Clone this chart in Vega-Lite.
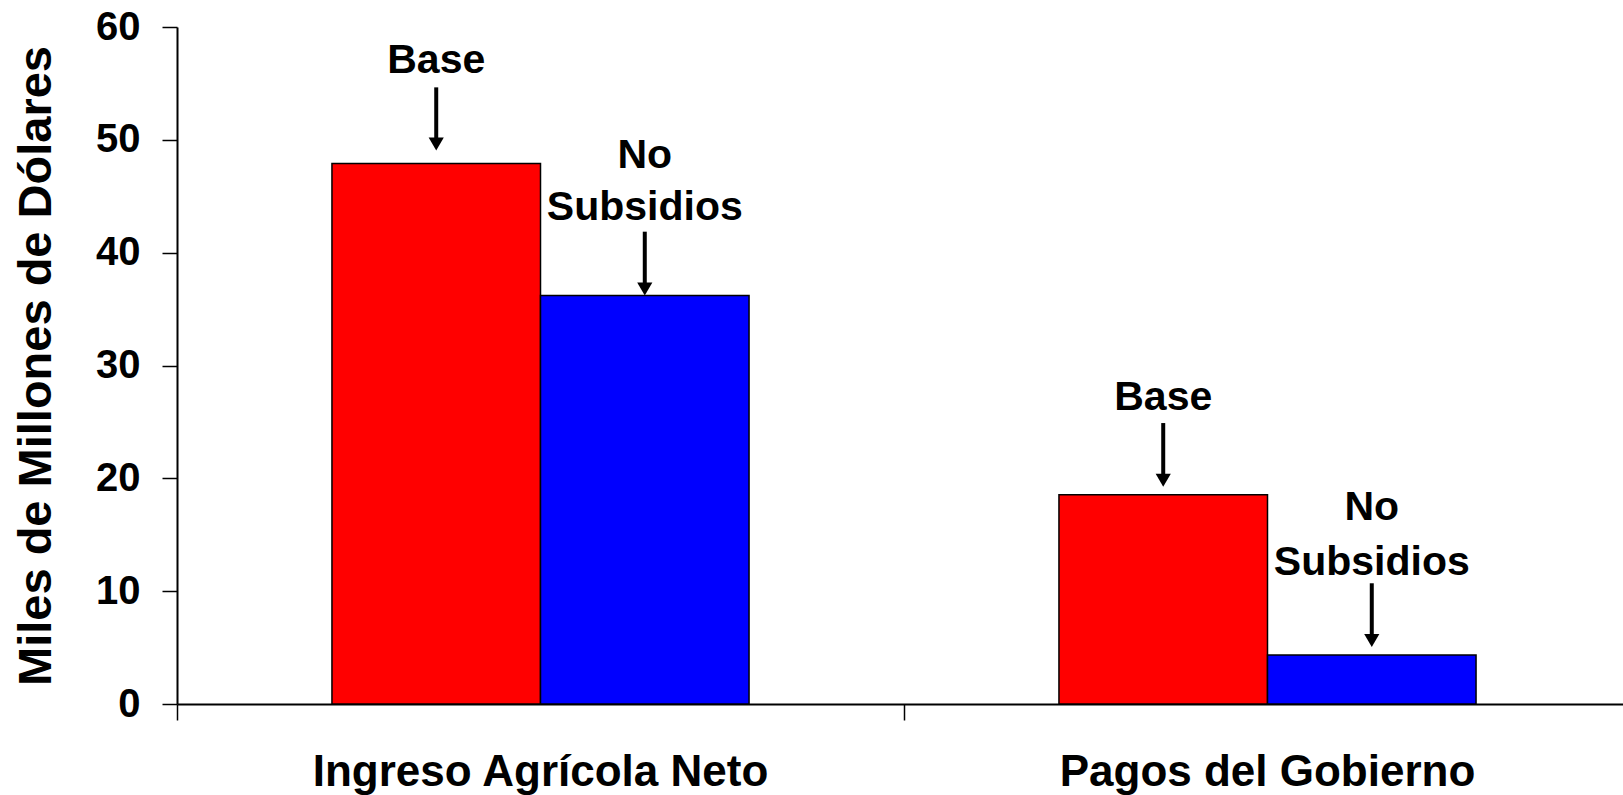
{
  "$schema": "https://vega.github.io/schema/vega-lite/v6.json",
  "width": 1446,
  "height": 677,
  "autosize": {"type": "none"},
  "padding": {"left": 177, "top": 27, "right": 0, "bottom": 91},
  "background": "white",
  "config": {"view": {"stroke": null}, "font": "Liberation Sans"},
  "datasets": {
    "bars": [
      {"cat": "Ingreso Agrícola Neto", "series": "Base", "value": 47.9},
      {"cat": "Ingreso Agrícola Neto", "series": "No Subsidios", "value": 36.2},
      {"cat": "Pagos del Gobierno", "series": "Base", "value": 18.55},
      {"cat": "Pagos del Gobierno", "series": "No Subsidios", "value": 4.34}
    ],
    "arrows": [
      {"cat": "Ingreso Agrícola Neto", "series": "Base", "top": 54.65, "tip": 49.1},
      {"cat": "Ingreso Agrícola Neto", "series": "No Subsidios", "top": 41.86, "tip": 36.25},
      {"cat": "Pagos del Gobierno", "series": "Base", "top": 24.9, "tip": 19.3},
      {"cat": "Pagos del Gobierno", "series": "No Subsidios", "top": 10.7, "tip": 5.1}
    ],
    "labels": [
      {"cat": "Ingreso Agrícola Neto", "series": "Base", "text": "Base", "y": 57.0},
      {"cat": "Ingreso Agrícola Neto", "series": "No Subsidios", "text": "No", "y": 48.6},
      {"cat": "Ingreso Agrícola Neto", "series": "No Subsidios", "text": "Subsidios", "y": 44.0},
      {"cat": "Pagos del Gobierno", "series": "Base", "text": "Base", "y": 27.1},
      {"cat": "Pagos del Gobierno", "series": "No Subsidios", "text": "No", "y": 17.4},
      {"cat": "Pagos del Gobierno", "series": "No Subsidios", "text": "Subsidios", "y": 12.5}
    ]
  },
  "encoding": {
    "x": {
      "field": "cat",
      "type": "nominal",
      "sort": ["Ingreso Agrícola Neto", "Pagos del Gobierno"],
      "scale": {"paddingInner": 0, "paddingOuter": 0, "range": [0, 1454]},
      "axis": {
        "title": null,
        "labelAngle": 0,
        "bandPosition": 0,
        "labelOffset": 0,
        "labelLimit": 0,
        "labelFontSize": 44,
        "labelFontWeight": "bold",
        "labelColor": "black",
        "labelPadding": 30,
        "tickSize": 16,
        "tickColor": "black",
        "tickWidth": 1.5,
        "domainColor": "black",
        "domainWidth": 2
      }
    },
    "xOffset": {
      "field": "series",
      "type": "nominal",
      "sort": ["Base", "No Subsidios"],
      "scale": {"paddingInner": 0, "paddingOuter": 0.743}
    }
  },
  "layer": [
    {
      "data": {"name": "bars"},
      "mark": {"type": "bar", "stroke": "black", "strokeWidth": 1.5},
      "encoding": {
        "y": {
          "field": "value",
          "type": "quantitative",
          "scale": {"domain": [0, 60], "nice": false},
          "axis": {
            "values": [0, 10, 20, 30, 40, 50, 60],
            "grid": false,
            "title": "Miles de Millones de Dólares",
            "titleFontSize": 47,
            "titleFontWeight": "bold",
            "titleColor": "black",
            "titlePadding": 35,
            "labelFontSize": 40,
            "labelFontWeight": "bold",
            "labelColor": "black",
            "labelPadding": 22,
            "tickSize": 15,
            "tickColor": "black",
            "tickWidth": 1.5,
            "domainColor": "black",
            "domainWidth": 2
          }
        },
        "color": {
          "field": "series",
          "type": "nominal",
          "scale": {"domain": ["Base", "No Subsidios"], "range": ["#ff0000", "#0000ff"]},
          "legend": null
        }
      }
    },
    {
      "data": {"name": "arrows"},
      "mark": {"type": "rule", "color": "black", "strokeWidth": 4, "y2Offset": -8},
      "encoding": {
        "y": {"field": "top", "type": "quantitative"},
        "y2": {"field": "tip"}
      }
    },
    {
      "data": {"name": "arrows"},
      "mark": {"type": "point", "shape": "triangle-down", "filled": true, "color": "black", "opacity": 1, "size": 230, "yOffset": -6},
      "encoding": {
        "y": {"field": "tip", "type": "quantitative"}
      }
    },
    {
      "data": {"name": "labels"},
      "mark": {"type": "text", "fontSize": 41, "fontWeight": "bold", "color": "black", "align": "center", "baseline": "middle"},
      "encoding": {
        "y": {"field": "y", "type": "quantitative"},
        "text": {"field": "text"}
      }
    }
  ]
}
